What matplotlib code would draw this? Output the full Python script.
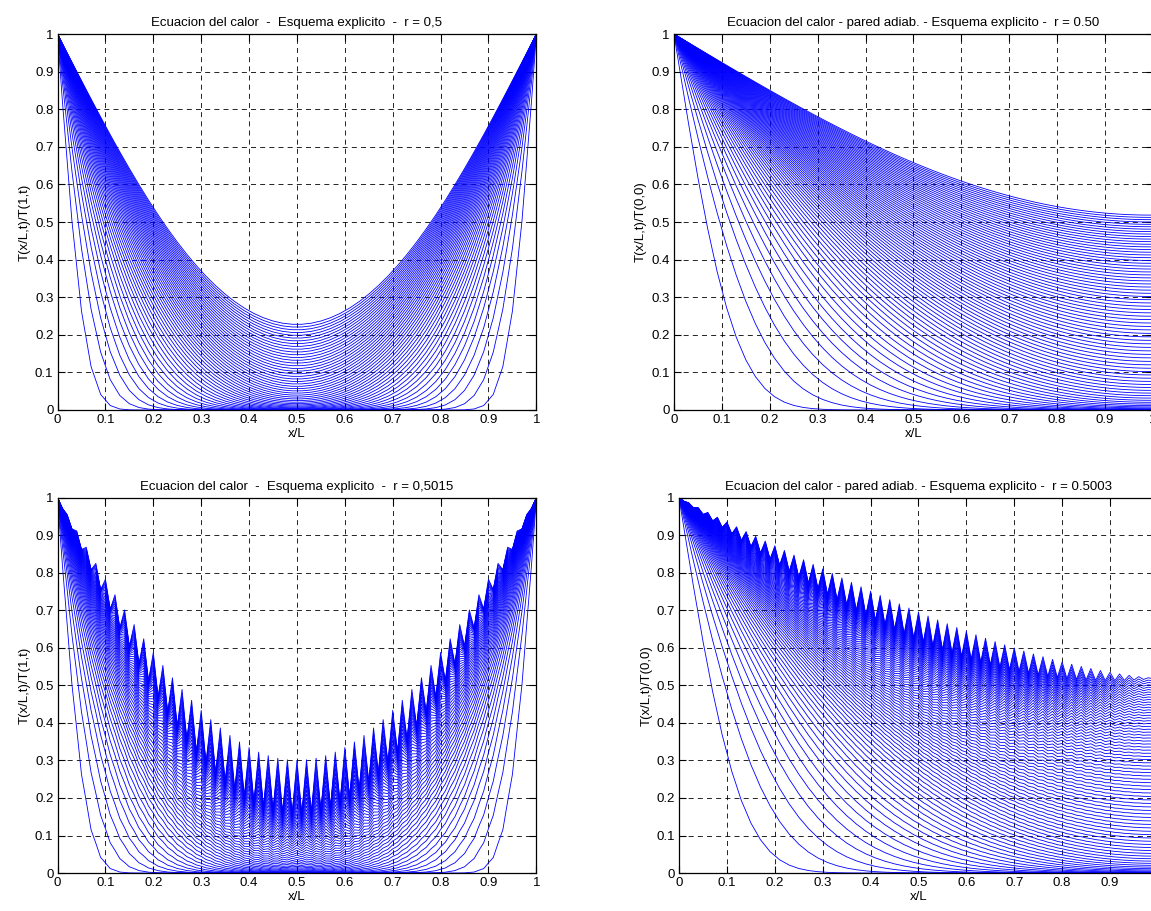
import numpy as np
import matplotlib.pyplot as plt

plt.rcParams['font.family'] = ['Liberation Sans', 'DejaVu Sans']

# simulation settings read from the titles / curves
r_values = [0.5, 0.50, 0.5015, 0.5003]
wall_type = ['fixed', 'adiab', 'fixed', 'adiab']
n_intervals = 100
n_steps = [1000, 7800, 1000, 7800]
plot_every = [20, 100, 20, 100]

titles = [
    "Ecuacion del calor  -  Esquema explicito  -  r = 0,5",
    "Ecuacion del calor - pared adiab. - Esquema explicito -  r = 0.50",
    "Ecuacion del calor  -  Esquema explicito  -  r = 0,5015",
    "Ecuacion del calor - pared adiab. - Esquema explicito -  r = 0.5003",
]
ylabels = ["T(x/L,t)/T(1,t)", "T(x/L,t)/T(0,0)", "T(x/L,t)/T(1,t)", "T(x/L,t)/T(0,0)"]
ticks = np.round(np.arange(0, 1.01, 0.1), 1)
tick_labels = ['0', '0.1', '0.2', '0.3', '0.4', '0.5', '0.6', '0.7', '0.8', '0.9', '1']


def explicit(r, wall, steps, every):
    x = np.linspace(0, 1, n_intervals + 1)
    u = np.zeros_like(x)
    u[0] = 1.0
    if wall == 'fixed':
        u[-1] = 1.0
    out = []
    for n in range(1, steps + 1):
        new = u.copy()
        new[1:-1] = u[1:-1] + r * (u[2:] - 2 * u[1:-1] + u[:-2])
        if wall == 'adiab':
            new[-1] = new[-2]
        u = new
        if n % every == 0:
            out.append(u.copy())
    return x, np.array(out).T


fig = plt.figure(figsize=(11.51, 9.11), dpi=100)
positions = [
    [0.0500, 0.550, 0.416, 0.4126],
    [0.5856, 0.550, 0.416, 0.4126],
    [0.0500, 0.0417, 0.416, 0.4117],
    [0.5900, 0.0417, 0.416, 0.4117],
]

for k in range(4):
    ax = fig.add_axes(positions[k])
    x, T = explicit(r_values[k], wall_type[k], n_steps[k], plot_every[k])
    ax.plot(x, T, color='b', lw=0.6)
    ax.set_xlim(0, 1)
    ax.set_ylim(0, 1)
    ax.set_xticks(ticks)
    ax.set_xticklabels(tick_labels)
    ax.set_yticks(ticks)
    ax.set_yticklabels(tick_labels)
    ax.tick_params(direction='in', length=5, labelsize=9.5, top=True, right=True, pad=3)
    ax.grid(True, color='k', linestyle=(0, (6, 5)), lw=0.6)
    for s in ax.spines.values():
        s.set_linewidth(0.9)
    ax.set_title(titles[k], fontsize=9.5, pad=6)
    ax.set_xlabel("x/L", fontsize=9.5, labelpad=1)
    ax.set_ylabel(ylabels[k], fontsize=9.5, labelpad=3)

fig.savefig("out.png", dpi=100)
